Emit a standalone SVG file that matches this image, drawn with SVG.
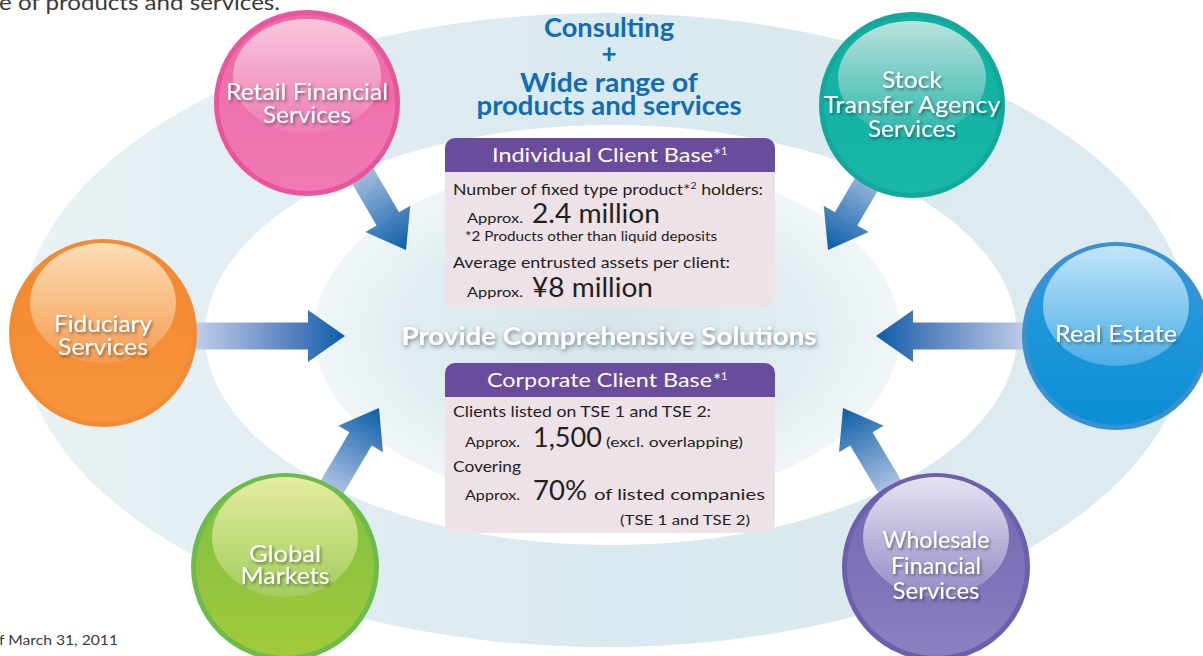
<svg xmlns="http://www.w3.org/2000/svg" width="1203" height="656" viewBox="0 0 1203 656">
  <defs>
    <style>
      text { font-family: Lato, "Noto Sans", sans-serif; }
      .lbl { font-size: 23px; fill: #ffffff; text-anchor: middle; filter: url(#txtShadow); }
      .blue { font-weight: bold; font-size: 26px; fill: #116cb3; text-anchor: middle; }
      .hdr { font-size: 19px; fill: #ffffff; }
      .body { font-size: 16px; fill: #231f20; }
      .sm { font-size: 14px; fill: #231f20; }
      .big { font-size: 26px; fill: #231f20; }
      .note { font-size: 12.5px; fill: #231f20; }
      .solve { font-weight: bold; font-size: 25px; fill: #ffffff; text-anchor: middle; filter: url(#solveShadow); }
      .cap { fill: #3a3a3a; }
    </style>
    <filter id="txtShadow" x="-20%" y="-40%" width="140%" height="180%">
      <feDropShadow dx="1.5" dy="2" stdDeviation="1.5" flood-color="#000" flood-opacity="0.45"/>
    </filter>
    <filter id="solveShadow" x="-10%" y="-50%" width="120%" height="200%">
      <feDropShadow dx="1" dy="2" stdDeviation="2" flood-color="#2a3a44" flood-opacity="0.6"/>
    </filter>

    <!-- background rings -->
    <linearGradient id="bandFill" x1="0" y1="0" x2="1" y2="0">
      <stop offset="0" stop-color="#e9f2f5"/>
      <stop offset="0.5" stop-color="#d8e9ef"/>
      <stop offset="1" stop-color="#dcebf0"/>
    </linearGradient>
    <radialGradient id="coreFill" cx="0.5" cy="0.5" r="0.5">
      <stop offset="0" stop-color="#d5e4ea"/>
      <stop offset="0.7" stop-color="#e2edf1"/>
      <stop offset="1" stop-color="#f0f6f8"/>
    </radialGradient>

    <!-- arrow fills, light at the tail and dark at the tip -->
    <linearGradient id="arrowH" x1="0" y1="0" x2="1" y2="0">
      <stop offset="0" stop-color="#c6d1ea"/>
      <stop offset="0.7" stop-color="#4f7dbd"/>
      <stop offset="1" stop-color="#0a5ea7"/>
    </linearGradient>
    <linearGradient id="arrowD" x1="0" y1="0" x2="1" y2="0">
      <stop offset="0" stop-color="#b8c9e6"/>
      <stop offset="1" stop-color="#0a5ea7"/>
    </linearGradient>
    <path id="arrowLong" d="M-155,-13.5 H-37 V-26 L0,0 L-37,26 V13.5 H-155 Z" fill="url(#arrowH)"/>
    <path id="arrowShort" d="M-100,-13 H-36 V-26 L0,0 L-36,26 V13 H-100 Z" fill="url(#arrowD)"/>

    <!-- sphere fills -->
    <linearGradient id="pinkBody" x1="0" y1="0" x2="0" y2="1"><stop offset="0" stop-color="#ee68a7"/><stop offset="1" stop-color="#f07ab2"/></linearGradient>
    <linearGradient id="pinkHi" x1="0" y1="0" x2="0" y2="1"><stop offset="0" stop-color="#f8c6dc"/><stop offset="1" stop-color="#ef7db4"/></linearGradient>
    <linearGradient id="tealBody" x1="0" y1="0" x2="0" y2="1"><stop offset="0" stop-color="#0fb0a3"/><stop offset="1" stop-color="#19b6a9"/></linearGradient>
    <linearGradient id="tealHi" x1="0" y1="0" x2="0" y2="1"><stop offset="0" stop-color="#b9e2dc"/><stop offset="1" stop-color="#2db7ab"/></linearGradient>
    <linearGradient id="orangeBody" x1="0" y1="0" x2="0" y2="1"><stop offset="0" stop-color="#f5862e"/><stop offset="1" stop-color="#f6953d"/></linearGradient>
    <linearGradient id="orangeHi" x1="0" y1="0" x2="0" y2="1"><stop offset="0" stop-color="#fcdeb4"/><stop offset="1" stop-color="#f69c52"/></linearGradient>
    <linearGradient id="azureBody" x1="0" y1="0" x2="0" y2="1"><stop offset="0" stop-color="#2f9bdd"/><stop offset="1" stop-color="#0a8ed5"/></linearGradient>
    <linearGradient id="azureHi" x1="0" y1="0" x2="0" y2="1"><stop offset="0" stop-color="#c2e5f9"/><stop offset="1" stop-color="#4bade6"/></linearGradient>
    <linearGradient id="greenBody" x1="0" y1="0" x2="0" y2="1"><stop offset="0" stop-color="#7dbf43"/><stop offset="1" stop-color="#a2ca3a"/></linearGradient>
    <linearGradient id="greenHi" x1="0" y1="0" x2="0" y2="1"><stop offset="0" stop-color="#e5ed9f"/><stop offset="1" stop-color="#a1cd5c"/></linearGradient>
    <linearGradient id="violetBody" x1="0" y1="0" x2="0" y2="1"><stop offset="0" stop-color="#7265b0"/><stop offset="1" stop-color="#8b80c0"/></linearGradient>
    <linearGradient id="violetHi" x1="0" y1="0" x2="0" y2="1"><stop offset="0" stop-color="#e7e3f1"/><stop offset="1" stop-color="#958ac5"/></linearGradient>
  </defs>

  <rect width="1203" height="656" fill="#ffffff"/>

  <!-- concentric rings behind everything -->
  <g id="rings">
    <ellipse cx="605" cy="330" rx="585" ry="317" fill="url(#bandFill)"/>
    <ellipse cx="611" cy="335" rx="406" ry="210" fill="#ffffff"/>
    <ellipse cx="607" cy="333" rx="293" ry="172" fill="url(#coreFill)"/>
  </g>

  <!-- arrows from each business to the centre -->
  <g id="connectors">
    <use href="#arrowLong" transform="translate(345 336)"/>
    <use href="#arrowLong" transform="translate(876 336) rotate(180)"/>
    <use href="#arrowShort" transform="translate(406 250) rotate(59.7)"/>
    <use href="#arrowShort" transform="translate(828 250) rotate(120.3)"/>
    <use href="#arrowShort" transform="translate(379 408) rotate(-59.3)"/>
    <use href="#arrowShort" transform="translate(843 408) rotate(-120.7)"/>
  </g>

  <g id="offer">
    <text class="blue" x="609" y="37" textLength="130" lengthAdjust="spacingAndGlyphs">Consulting</text>
    <text class="blue" x="609" y="63">+</text>
    <text class="blue" x="609" y="92" textLength="178" lengthAdjust="spacingAndGlyphs">Wide range of</text>
    <text class="blue" x="609" y="115" textLength="265" lengthAdjust="spacingAndGlyphs">products and services</text>
  </g>

  <g id="individual">
    <rect x="445" y="138" width="330" height="169" rx="10" fill="#ede2e8"/>
    <path d="M445,172 V148 A10,10 0 0 1 455,138 H765 A10,10 0 0 1 775,148 V172 Z" fill="#6a4c9c"/>
    <text class="hdr" x="492" y="162" textLength="221" lengthAdjust="spacingAndGlyphs">Individual Client Base</text>
    <text class="hdr" x="713" y="162">*<tspan font-size="11" dy="-7">1</tspan></text>
    <text class="body" x="453" y="195" textLength="310" lengthAdjust="spacingAndGlyphs">Number of fixed type product*<tspan font-size="9.5" dy="-6">2</tspan><tspan dy="6"> holders:</tspan></text>
    <text class="sm" x="467" y="223" textLength="56" lengthAdjust="spacingAndGlyphs">Approx.</text>
    <text class="big" x="532" y="223" textLength="128" lengthAdjust="spacingAndGlyphs">2.4 million</text>
    <text class="note" x="465" y="241" textLength="252" lengthAdjust="spacingAndGlyphs">*2 Products other than liquid deposits</text>
    <text class="body" x="453" y="268" textLength="277" lengthAdjust="spacingAndGlyphs">Average entrusted assets per client:</text>
    <text class="sm" x="467" y="297" textLength="56" lengthAdjust="spacingAndGlyphs">Approx.</text>
    <text class="big" x="532" y="297" textLength="121" lengthAdjust="spacingAndGlyphs">¥8 million</text>
  </g>

  <g id="solutions">
    <text class="solve" x="609" y="345" textLength="415" lengthAdjust="spacingAndGlyphs">Provide Comprehensive Solutions</text>
  </g>

  <g id="corporate">
    <rect x="445" y="363" width="330" height="170" rx="10" fill="#ede2e8"/>
    <path d="M445,397 V373 A10,10 0 0 1 455,363 H765 A10,10 0 0 1 775,373 V397 Z" fill="#6a4c9c"/>
    <text class="hdr" x="487" y="387" textLength="225" lengthAdjust="spacingAndGlyphs">Corporate Client Base</text>
    <text class="hdr" x="713" y="387">*<tspan font-size="11" dy="-7">1</tspan></text>
    <text class="body" x="453" y="417" textLength="258" lengthAdjust="spacingAndGlyphs">Clients listed on TSE 1 and TSE 2:</text>
    <text class="sm" x="465" y="447" textLength="55" lengthAdjust="spacingAndGlyphs">Approx.</text>
    <text class="big" x="533" y="447" textLength="69" lengthAdjust="spacingAndGlyphs">1,500</text>
    <text class="sm" x="606" y="447" textLength="137" lengthAdjust="spacingAndGlyphs">(excl. overlapping)</text>
    <text class="body" x="453" y="472" textLength="68" lengthAdjust="spacingAndGlyphs">Covering</text>
    <text class="sm" x="465" y="500" textLength="55" lengthAdjust="spacingAndGlyphs">Approx.</text>
    <text class="big" x="533" y="500" textLength="54" lengthAdjust="spacingAndGlyphs">70%</text>
    <text class="body" x="594" y="500" font-size="19.5" textLength="171" lengthAdjust="spacingAndGlyphs">of listed companies</text>
    <text class="sm" x="620" y="525" textLength="130" lengthAdjust="spacingAndGlyphs">(TSE 1 and TSE 2)</text>
  </g>

  <!-- business spheres -->
  <g id="retail" transform="translate(307 103)">
    <circle r="93" fill="#e9559b"/>
    <circle r="88" fill="url(#pinkBody)"/>
    <ellipse cy="-27" rx="74" ry="57" fill="url(#pinkHi)"/>
    <text class="lbl" y="-3" textLength="162" lengthAdjust="spacingAndGlyphs">Retail Financial</text>
    <text class="lbl" y="20" textLength="88" lengthAdjust="spacingAndGlyphs">Services</text>
  </g>

  <g id="stock" transform="translate(912 105)">
    <circle r="93" fill="#13a89b"/>
    <circle r="88" fill="url(#tealBody)"/>
    <ellipse cy="-27" rx="74" ry="57" fill="url(#tealHi)"/>
    <text class="lbl" y="-17" textLength="60" lengthAdjust="spacingAndGlyphs">Stock</text>
    <text class="lbl" y="8" textLength="177" lengthAdjust="spacingAndGlyphs">Transfer Agency</text>
    <text class="lbl" y="32" textLength="88" lengthAdjust="spacingAndGlyphs">Services</text>
  </g>

  <g id="fiduciary" transform="translate(103 333)">
    <circle r="94" fill="#f18b35"/>
    <circle r="89" fill="url(#orangeBody)"/>
    <ellipse cy="-30" rx="73" ry="60" fill="url(#orangeHi)"/>
    <text class="lbl" y="-1" textLength="98" lengthAdjust="spacingAndGlyphs">Fiduciary</text>
    <text class="lbl" y="22" textLength="90" lengthAdjust="spacingAndGlyphs">Services</text>
  </g>

  <g id="realestate" transform="translate(1116 336)">
    <circle r="94" fill="#3b90d1"/>
    <circle r="89" fill="url(#azureBody)"/>
    <ellipse cy="-30" rx="73" ry="60" fill="url(#azureHi)"/>
    <text class="lbl" y="6" textLength="122" lengthAdjust="spacingAndGlyphs">Real Estate</text>
  </g>

  <g id="global" transform="translate(285 567)">
    <circle r="94" fill="#6cbb4d"/>
    <circle r="89" fill="url(#greenBody)"/>
    <ellipse cy="-30" rx="73" ry="60" fill="url(#greenHi)"/>
    <text class="lbl" y="-5" textLength="72" lengthAdjust="spacingAndGlyphs">Global</text>
    <text class="lbl" y="17" textLength="89" lengthAdjust="spacingAndGlyphs">Markets</text>
  </g>

  <g id="wholesale" transform="translate(936 567)">
    <circle r="94" fill="#6c60ad"/>
    <circle r="89" fill="url(#violetBody)"/>
    <ellipse cy="-30" rx="73" ry="60" fill="url(#violetHi)"/>
    <text class="lbl" y="-19" textLength="107" lengthAdjust="spacingAndGlyphs">Wholesale</text>
    <text class="lbl" y="7" textLength="90" lengthAdjust="spacingAndGlyphs">Financial</text>
    <text class="lbl" y="32" textLength="87" lengthAdjust="spacingAndGlyphs">Services</text>
  </g>

  <g id="captions">
    <text class="cap" x="-1" y="10" font-size="21" textLength="281" lengthAdjust="spacingAndGlyphs">e of products and services.</text>
    <text class="cap" x="-1" y="645" font-size="14" textLength="119" lengthAdjust="spacingAndGlyphs">f March 31, 2011</text>
  </g>
</svg>
